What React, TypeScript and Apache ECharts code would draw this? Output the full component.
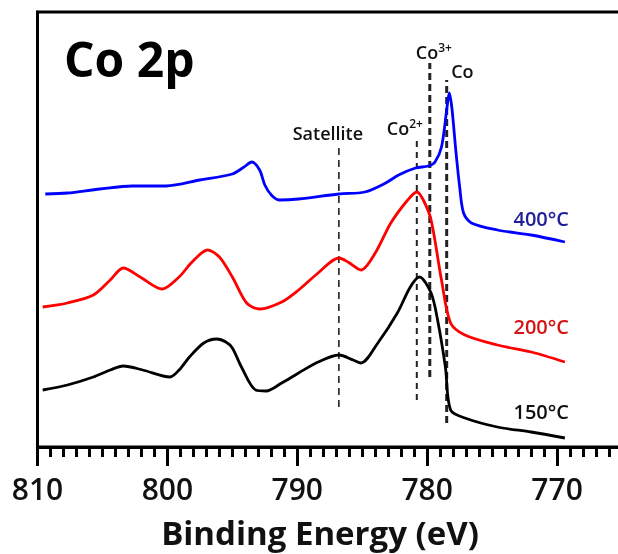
import React, { useEffect, useRef } from "react";
import * as echarts from "echarts";

// Binding energy (eV) and intensity (arb. units)
const blueE = [809.4, 807.7, 805.2, 802.7, 801.2, 800.1, 797.5, 795.0, 794.1, 793.5, 792.9, 792.5, 792.0, 791.4, 789.9, 786.8, 784.8, 783.2, 782.2, 780.9, 779.9, 779.4, 778.9, 778.5, 778.3, 778.1, 777.8, 777.5, 777.2, 776.6, 774.6, 772.0, 769.4];
const blueI = [253, 254, 258, 261, 261, 261, 267, 273, 280, 285, 277, 262, 252, 247, 248, 253, 255, 264, 272, 279, 281, 285, 300, 337, 354, 339, 297, 260, 234, 224, 217, 212, 205];

const redE = [809.6, 807.7, 805.7, 804.4, 803.4, 802.1, 800.4, 799.1, 798.1, 796.9, 796.0, 795.0, 793.9, 792.9, 791.2, 789.9, 788.4, 786.8, 786.1, 785.1, 784.0, 782.8, 781.5, 780.8, 780.3, 779.7, 778.9, 778.2, 777.1, 774.6, 772.0, 769.4];
const redI = [140, 144, 152, 167, 179, 170, 158, 170, 185, 197, 190, 170, 144, 138, 145, 157, 174, 189, 185, 177, 194, 224, 247, 255, 247, 227, 167, 124, 112, 102, 95, 85];

const blackE = [809.6, 807.7, 805.7, 804.4, 803.4, 801.9, 799.8, 799.1, 798.3, 797.2, 796.2, 795.5, 795.0, 794.3, 793.2, 792.4, 791.2, 789.9, 788.4, 786.8, 785.7, 785.1, 783.8, 782.3, 781.3, 780.6, 779.7, 779.2, 778.6, 778.2, 777.1, 774.6, 772.0, 769.4];
const blackI = [57, 62, 70, 77, 81, 77, 70, 77, 90, 104, 108, 105, 99, 80, 57, 56, 64, 74, 85, 92, 87, 84, 104, 134, 160, 170, 154, 127, 80, 37, 29, 20, 15, 9];

const seriesNames = ["400°C", "200°C", "150°C"];

// Reference (dashed) lines
const refNames = ["Satellite", "Co2+", "Co3+", "Co"];
const refE = [786.8, 780.8, 779.8, 778.5];
const refTop = [299, 307, 384, 367];
const refBottom = [40, 47, 70, 24];

const xTicks = [810, 800, 790, 780, 770];

const FONT = "'Open Sans', 'Liberation Sans', sans-serif";

const zip = (xs: number[], ys: number[]) => xs.map((x, i) => [x, ys[i]]);

export default function App() {
  const ref = useRef<HTMLDivElement>(null);
  useEffect(() => {
    if (!ref.current) return;
    const chart = echarts.init(ref.current, null, { renderer: "svg" });

    const refStyles = [
      { width: 1.6, dash: [7, 5], label: { position: "top", distance: 5, offset: [-11, 0] } },
      { width: 2, dash: [6, 5], label: { position: "top", distance: 2, offset: [-12, 0] } },
      { width: 3, dash: [7, 4], label: { position: "top", distance: 1, offset: [4, 0] } },
      { width: 3, dash: [7, 4], label: { position: "right", distance: 4, offset: [0, -9] } },
    ];

    const labelFor = (name: string) => {
      const m = name.match(/^(Co)(\d\+)$/);
      if (m) return `{a|${m[1]}}{s|${m[2]}}`;
      return `{a|${name}}`;
    };

    const refSeries = refNames.map((name, i) => ({
      type: "line",
      name,
      silent: true,
      symbol: "circle",
      symbolSize: 1,
      showSymbol: true,
      itemStyle: { color: "rgba(0,0,0,0)" },
      z: 1,
      lineStyle: { color: "#222", width: refStyles[i].width, type: refStyles[i].dash },
      data: [
        [refE[i], refBottom[i]],
        {
          value: [refE[i], refTop[i]],
          label: {
            show: true,
            ...refStyles[i].label,
            formatter: labelFor(name),
            rich: {
              a: { fontFamily: FONT, fontSize: 18, fontWeight: 600, color: "#111", lineHeight: 20 },
              s: { fontFamily: FONT, fontSize: 12, fontWeight: 600, color: "#111", verticalAlign: "top", lineHeight: 20, padding: [0, 0, 8, 0] },
            },
          },
        },
      ],
    }));

    const curve = (name: string, xs: number[], ys: number[], color: string) => ({
      type: "line",
      name,
      data: zip(xs, ys),
      symbol: "none",
      smooth: 0.3,
      z: 3,
      lineStyle: { color, width: 2.8 },
    });

    chart.setOption({
      animation: false,
      grid: {
        left: 37.5,
        top: 12,
        right: 0.5,
        bottom: 107,
        show: true,
        borderColor: "#000",
        borderWidth: 3,
        backgroundColor: "transparent",
        containLabel: false,
      },
      xAxis: {
        type: "value",
        inverse: true,
        min: 760,
        max: 810,
        interval: 10,
        axisLine: { show: true, onZero: false, lineStyle: { color: "#000", width: 3 } },
        axisTick: { show: true, length: 19, lineStyle: { color: "#000", width: 3 } },
        minorTick: { show: true, splitNumber: 10, length: 10, lineStyle: { color: "#000", width: 3 } },
        splitLine: { show: false },
        axisLabel: {
          margin: 26,
          fontFamily: FONT,
          fontSize: 30,
          fontWeight: 600,
          color: "#111",
          formatter: (v: number) => (xTicks.includes(v) ? String(v) : ""),
        },
      },
      yAxis: {
        type: "value",
        min: 0,
        max: 435,
        axisLine: { show: true, lineStyle: { color: "#000", width: 3 } },
        axisTick: { show: false },
        axisLabel: { show: false },
        splitLine: { show: false },
      },
      series: [
        ...refSeries,
        curve(seriesNames[0], blueE, blueI, "#0000ff"),
        curve(seriesNames[1], redE, redI, "#ff0000"),
        curve(seriesNames[2], blackE, blackI, "#000000"),
      ],
      graphic: [
        {
          type: "text",
          left: 64,
          top: 34,
          style: { text: "Co 2p", fontFamily: FONT, fontSize: 48, fontWeight: "bold", fill: "#000" },
        },
        {
          type: "text",
          x: 569,
          y: 218,
          style: { text: seriesNames[0], fontFamily: FONT, fontSize: 20, fontWeight: 600, fill: "#20209a", align: "right", verticalAlign: "middle" },
        },
        {
          type: "text",
          x: 569,
          y: 326,
          style: { text: seriesNames[1], fontFamily: FONT, fontSize: 20, fontWeight: 600, fill: "#d41414", align: "right", verticalAlign: "middle" },
        },
        {
          type: "text",
          x: 569,
          y: 411,
          style: { text: seriesNames[2], fontFamily: FONT, fontSize: 20, fontWeight: 600, fill: "#111", align: "right", verticalAlign: "middle" },
        },
        {
          type: "text",
          x: 320,
          y: 532,
          style: { text: "Binding Energy (eV)", fontFamily: FONT, fontSize: 33, fontWeight: "bold", fill: "#111", align: "center", verticalAlign: "middle" },
        },
      ],
    });
    return () => chart.dispose();
  }, []);
  return (
    <div style={{ position: "fixed", left: 0, top: 0, width: 618, height: 554, overflow: "hidden" }}>
      <div ref={ref} style={{ width: 690, height: 554 }} />
    </div>
  );
}
